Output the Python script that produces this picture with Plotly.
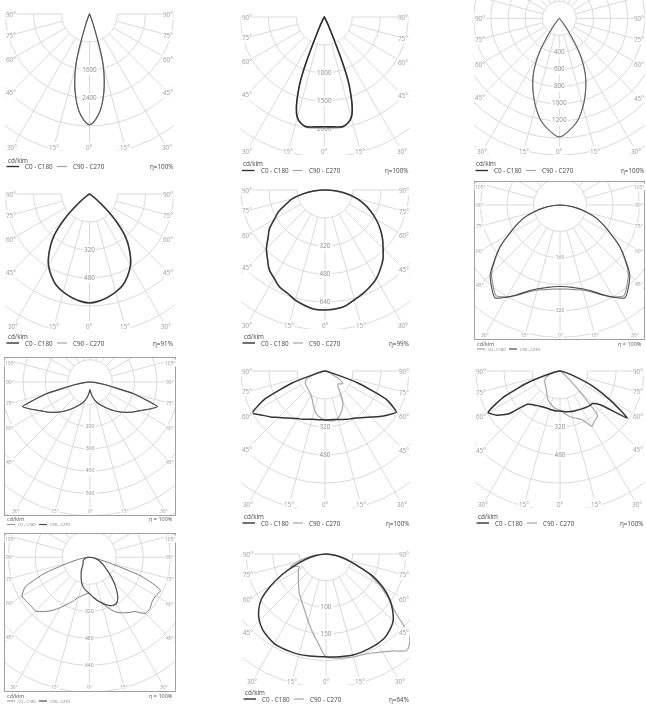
import math
import numpy as np
import plotly.graph_objects as go

W, H = 646, 704
FONT = "Open Sans"

# ---------------- data (cd/klm at gamma angles, 0..90 deg) ----------------
gamma = [0, 5, 10, 15, 20, 25, 30, 35, 40, 45, 50, 55, 60, 65, 70, 75, 80, 85, 90]

# chart 1
c0_1 = [3170, 2900, 2330, 1500, 300, 40, 10, 0, 0, 0, 0, 0, 0, 0, 0, 0, 0, 0, 0]
c180_1 = [3170, 2900, 2330, 1500, 300, 40, 10, 0, 0, 0, 0, 0, 0, 0, 0, 0, 0, 0, 0]
c90_1 = [3150, 2890, 2320, 1490, 290, 40, 10, 0, 0, 0, 0, 0, 0, 0, 0, 0, 0, 0, 0]
c270_1 = [3150, 2890, 2320, 1490, 290, 40, 10, 0, 0, 0, 0, 0, 0, 0, 0, 0, 0, 0, 0]
rings_1 = [1600, 2400]
eta_1 = "η=100%"

# chart 2
c0_2 = [1960, 1970, 1980, 1860, 1300, 230, 30, 10, 5, 0, 0, 0, 0, 0, 0, 0, 0, 0, 0]
c180_2 = [1960, 1970, 1980, 1860, 1300, 230, 30, 10, 5, 0, 0, 0, 0, 0, 0, 0, 0, 0, 0]
c90_2 = [1985, 1990, 1990, 1850, 1290, 225, 30, 10, 5, 0, 0, 0, 0, 0, 0, 0, 0, 0, 0]
c270_2 = [1985, 1990, 1990, 1850, 1290, 225, 30, 10, 5, 0, 0, 0, 0, 0, 0, 0, 0, 0, 0]
rings_2 = [1000, 1500, 2000]
eta_2 = "η=100%"

# chart 3
c0_3 = [1388, 1320, 1220, 1070, 900, 720, 480, 180, 40, 10, 0, 0, 0, 0, 0, 0, 0, 0, 0]
c180_3 = [1388, 1320, 1220, 1070, 900, 720, 480, 180, 40, 10, 0, 0, 0, 0, 0, 0, 0, 0, 0]
c90_3 = [1385, 1318, 1218, 1068, 898, 718, 478, 178, 40, 10, 0, 0, 0, 0, 0, 0, 0, 0, 0]
c270_3 = [1385, 1318, 1218, 1068, 898, 718, 478, 178, 40, 10, 0, 0, 0, 0, 0, 0, 0, 0, 0]
rings_3 = [400, 600, 800, 1000, 1200]
eta_3 = "η=100%"

# chart 4
c0_4 = [623, 615, 600, 580, 555, 515, 468, 400, 320, 200, 80, 20, 5, 0, 0, 0, 0, 0, 0]
c180_4 = [623, 615, 600, 580, 555, 515, 468, 400, 320, 200, 80, 20, 5, 0, 0, 0, 0, 0, 0]
c90_4 = [620, 612, 598, 578, 556, 518, 472, 405, 324, 204, 82, 20, 5, 0, 0, 0, 0, 0, 0]
c270_4 = [620, 612, 598, 578, 556, 518, 472, 405, 324, 204, 82, 20, 5, 0, 0, 0, 0, 0, 0]
rings_4 = [320, 480]
eta_4 = "η=91%"

# chart 5
c0_5 = [686, 683, 672, 650, 630, 610, 585, 552, 515, 470, 428, 385, 337, 290, 240, 190, 130, 65, 0]
c180_5 = [686, 684, 670, 652, 628, 612, 582, 555, 512, 473, 425, 388, 334, 292, 238, 192, 128, 66, 0]
c90_5 = [684, 680, 675, 648, 633, 607, 588, 549, 518, 466, 431, 382, 340, 287, 243, 187, 133, 63, 0]
c270_5 = [684, 686, 668, 655, 626, 615, 580, 558, 510, 476, 422, 390, 331, 295, 236, 195, 126, 68, 0]
rings_5 = [320, 480, 640]
eta_5 = "η=99%"

# chart 6
c0_6 = [254, 255, 260, 266, 280, 300, 320, 335, 315, 292, 255, 220, 178, 145, 118, 82, 50, 20, 0]
c180_6 = [254, 255, 260, 266, 280, 300, 320, 335, 315, 292, 255, 220, 178, 145, 118, 82, 50, 20, 0]
c90_6 = [246, 248, 254, 262, 276, 298, 322, 342, 322, 298, 258, 222, 180, 146, 118, 82, 50, 20, 0]
c270_6 = [246, 248, 254, 262, 276, 298, 322, 342, 322, 298, 258, 222, 180, 146, 118, 82, 50, 20, 0]
rings_6 = [160, 320]
eta_6 = "η = 100%"

# chart 7
c0_7 = [34, 50, 68, 85, 100, 114, 130, 148, 168, 190, 212, 235, 257, 290, 322, 200, 70, 20, 0]
c180_7 = [34, 50, 68, 85, 100, 114, 130, 148, 168, 190, 212, 235, 257, 290, 322, 200, 70, 20, 0]
c90_7 = [34, 50, 68, 85, 100, 114, 130, 148, 168, 190, 212, 235, 257, 290, 322, 200, 70, 20, 0]
c270_7 = [34, 50, 68, 85, 100, 114, 130, 148, 168, 190, 212, 235, 257, 290, 322, 200, 70, 20, 0]
rings_7 = [200, 300, 400, 500]
eta_7 = "η = 100%"

# chart 8
c0_8 = [280, 280, 282, 287, 295, 305, 313, 328, 347, 372, 405, 438, 470, 390, 200, 30, 10, 3, 0]
c180_8 = [280, 280, 282, 286, 294, 304, 314, 330, 350, 375, 408, 440, 480, 380, 200, 30, 10, 3, 0]
c90_8 = [280, 285, 288, 280, 260, 235, 205, 150, 115, 105, 115, 125, 90, 50, 25, 15, 8, 4, 0]
c270_8 = [280, 270, 255, 230, 200, 175, 160, 150, 145, 140, 138, 135, 130, 120, 90, 60, 40, 20, 0]
rings_8 = [320, 480]
eta_8 = "η=100%"

# chart 9
c0_9 = [229, 232, 236, 240, 243, 245, 250, 255, 260, 263, 300, 470, 330, 210, 90, 35, 12, 4, 0]
c180_9 = [229, 229, 228, 226, 225, 227, 232, 240, 250, 270, 380, 440, 474, 360, 200, 60, 15, 5, 0]
c90_9 = [225, 240, 258, 275, 288, 310, 365, 345, 335, 130, 45, 15, 5, 2, 0, 0, 0, 0, 0]
c270_9 = [225, 218, 210, 198, 185, 170, 150, 135, 125, 118, 112, 106, 100, 88, 70, 48, 28, 10, 0]
rings_9 = [320, 480]
eta_9 = "η=100%"

# chart 10
c0_10 = [214, 235, 255, 280, 315, 355, 380, 400, 420, 470, 470, 455, 455, 465, 330, 110, 40, 10, 0]
c180_10 = [214, 218, 230, 245, 275, 305, 345, 385, 420, 450, 450, 455, 460, 420, 290, 130, 60, 20, 0]
c90_10 = [214, 235, 258, 278, 300, 315, 318, 295, 250, 205, 160, 125, 100, 80, 65, 50, 35, 15, 0]
c270_10 = [214, 200, 185, 165, 140, 115, 95, 75, 60, 52, 48, 45, 42, 38, 32, 25, 16, 8, 0]
rings_10 = [320, 480, 640]
eta_10 = "η = 100%"

# chart 11
c0_11 = [193, 194, 195, 196, 196, 195, 194, 192, 186, 178, 163, 145, 122, 95, 60, 40, 24, 9, 0]
c180_11 = [193, 193, 194, 195, 195, 195, 194, 190, 185, 177, 165, 148, 120, 90, 62, 40, 22, 8, 0]
c90_11 = [193, 196, 198, 200, 201, 205, 212, 222, 236, 222, 170, 142, 115, 90, 62, 40, 22, 8, 0]
c270_11 = [193, 168, 148, 130, 115, 104, 95, 88, 80, 73, 68, 63, 60, 55, 70, 55, 35, 15, 0]
rings_11 = [100, 150]
eta_11 = "η=64%"

DATA = [
    dict(c0=c0_1, c180=c180_1, c90=c90_1, c270=c270_1, step=800, rings=rings_1, eta=eta_1),
    dict(c0=c0_2, c180=c180_2, c90=c90_2, c270=c270_2, step=500, rings=rings_2, eta=eta_2),
    dict(c0=c0_3, c180=c180_3, c90=c90_3, c270=c270_3, step=200, rings=rings_3, eta=eta_3),
    dict(c0=c0_4, c180=c180_4, c90=c90_4, c270=c270_4, step=160, rings=rings_4, eta=eta_4),
    dict(c0=c0_5, c180=c180_5, c90=c90_5, c270=c270_5, step=160, rings=rings_5, eta=eta_5),
    dict(c0=c0_6, c180=c180_6, c90=c90_6, c270=c270_6, step=80, rings=rings_6, eta=eta_6),
    dict(c0=c0_7, c180=c180_7, c90=c90_7, c270=c270_7, step=100, rings=rings_7, eta=eta_7),
    dict(c0=c0_8, c180=c180_8, c90=c90_8, c270=c270_8, step=160, rings=rings_8, eta=eta_8),
    dict(c0=c0_9, c180=c180_9, c90=c90_9, c270=c270_9, step=160, rings=rings_9, eta=eta_9),
    dict(c0=c0_10, c180=c180_10, c90=c90_10, c270=c270_10, step=160, rings=rings_10, eta=eta_10),
    dict(c0=c0_11, c180=c180_11, c90=c90_11, c270=c270_11, step=50, rings=rings_11, eta=eta_11),
]

# ---------------- layout geometry (pixels) and styles ----------------
FRAMES = [
    dict(cx=89.5, cy=14, s=0.035, L=5, R=174, T=11, B=151, boxed=False, full=False, ly=(160, 166.5), sm=1.0, dk=("#555555", 1.1)),
    dict(cx=324.3, cy=17, s=0.056, L=240.5, R=409, T=14, B=155, boxed=False, full=False, ly=(164, 170.5), sm=1.0, dk=("#2e2e2e", 1.6)),
    dict(cx=559.3, cy=18.3, s=0.0855, L=474, R=645, T=0, B=155, boxed=False, full=True, ly=(163.5, 170.5), sm=1.0, dk=("#5a5a5a", 1.0)),
    dict(cx=89.5, cy=194, s=0.175, L=5, R=174, T=191, B=330, boxed=False, full=False, ly=(336, 343), sm=1.0, dk=("#333333", 1.5)),
    dict(cx=325, cy=190, s=0.175, L=241, R=410, T=187, B=329, boxed=False, full=False, ly=(336, 343), sm=1.0, dk=("#333333", 1.5)),
    dict(cx=560, cy=205, s=0.331, L=475, R=644, T=182, B=339, boxed=True, full=True, ly=(343.5, 349), sm=0.8, dk=("#4a4a4a", 1.1)),
    dict(cx=90, cy=382, s=0.223, L=5, R=175, T=358, B=515, boxed=True, full=True, ly=(519, 524.5), sm=0.4, dk=("#4a4a4a", 1.1)),
    dict(cx=325, cy=371, s=0.175, L=241, R=410, T=368, B=508, boxed=False, full=False, ly=(516.5, 523), sm=0.5, dk=("#333333", 1.5)),
    dict(cx=560, cy=371, s=0.175, L=475, R=644, T=368, B=508, boxed=False, full=False, ly=(516.5, 523), sm=0.5, dk=("#333333", 1.5)),
    dict(cx=89.3, cy=557.3, s=0.16875, L=5, R=175, T=534, B=691, boxed=True, full=True, ly=(695.5, 701), sm=0.6, dk=("#4a4a4a", 1.2)),
    dict(cx=326, cy=554, s=0.533, L=242, R=410, T=551, B=685, boxed=False, full=False, ly=(692.5, 699), sm=0.8, dk=("#333333", 1.5)),
]

GRID = "#dadada"
ANG_COL = "#9b9b9b"
RING_COL = "#8a8a8a"
DARK = "#333333"
GRAY = "#a6a6a6"
TXT = 6.3  # main small text size


def curve_xy(left, right):
    g = np.radians(np.array(gamma, dtype=float))
    rl = np.array(left, dtype=float)
    rr = np.array(right, dtype=float)
    xl = -rl[::-1] * np.sin(g[::-1])
    yl = -rl[::-1] * np.cos(g[::-1])
    xr = rr[1:] * np.sin(g[1:])
    yr = -rr[1:] * np.cos(g[1:])
    return np.concatenate([xl, xr]), np.concatenate([yl, yr])


def grid_xy(fr, step, ring_vals, fsize):
    s, cx, cy = fr["s"], fr["cx"], fr["cy"]
    corners = [(fr["L"], fr["B"]), (fr["R"], fr["B"]), (fr["L"], fr["T"]), (fr["R"], fr["T"])]
    rmax = max(math.hypot(x - cx, y - cy) for x, y in corners) / s
    nr = int(rmax / step) + 1
    xs, ys = [], []
    for k in range(1, nr + 1):
        r = k * step
        rpx = r * s
        gap = 0.0
        if r in ring_vals:
            hw = (len(str(r)) * fsize * 0.58 + 3) / 2
            gap = math.degrees(math.asin(min(1.0, hw / rpx)))
        if fr["full"]:
            segs = [(gap, 360 - gap)]
        elif gap > 0:
            segs = [(-90, -gap), (gap, 90)]
        else:
            segs = [(-90, 90)]
        for a, b in segs:
            ph = np.radians(np.linspace(a, b, max(3, int((b - a) * 2))))
            xs += list(r * np.sin(ph))
            ys += list(-r * np.cos(ph))
            xs.append(None)
            ys.append(None)
    angs = range(0, 360, 15) if fr["full"] else range(-90, 91, 15)
    rfar = rmax * 1.5
    for a in angs:
        t = math.radians(a)
        if a % 360 == 0 and ring_vals:
            d = (fsize * 0.6 + 1) / s
            pts = [step]
            for rv in sorted(ring_vals):
                pts += [rv - d, rv + d]
            pts.append(rfar)
            for i in range(0, len(pts), 2):
                r1, r2 = pts[i], pts[i + 1]
                xs += [r1 * math.sin(t), r2 * math.sin(t), None]
                ys += [-r1 * math.cos(t), -r2 * math.cos(t), None]
        else:
            xs += [step * math.sin(t), rfar * math.sin(t), None]
            ys += [-step * math.cos(t), -rfar * math.cos(t), None]
    return xs, ys


def px2paper(x, y):
    return x / W, 1 - y / H


fig = go.Figure()
layout = dict(
    width=W, height=H, margin=dict(l=0, r=0, t=0, b=0),
    paper_bgcolor="white", plot_bgcolor="white", showlegend=False,
    annotations=[], shapes=[],
)


def ann(x, y, text, size, color, xanchor="center", bg=None):
    px, py = px2paper(x, y)
    d = dict(x=px, y=py, xref="paper", yref="paper", text=text, showarrow=False,
             font=dict(size=size, color=color, family=FONT),
             xanchor=xanchor, yanchor="middle", borderpad=0)
    if bg:
        d["bgcolor"] = bg
    layout["annotations"].append(d)


def seg(a0, a1, y, col, w):
    p0 = px2paper(a0, y)
    p1 = px2paper(a1, y)
    layout["shapes"].append(dict(type="line", xref="paper", yref="paper",
                                 x0=p0[0], y0=p0[1], x1=p1[0], y1=p1[1],
                                 line=dict(color=col, width=w)))


for i, (d, fr) in enumerate(zip(DATA, FRAMES), start=1):
    xa = "xaxis" if i == 1 else f"xaxis{i}"
    ya = "yaxis" if i == 1 else f"yaxis{i}"
    xr = "x" if i == 1 else f"x{i}"
    yr = "y" if i == 1 else f"y{i}"
    s = fr["s"]
    boxed = fr["boxed"]
    x0, y1 = px2paper(fr["L"], fr["T"])
    x1, y0 = px2paper(fr["R"], fr["B"])
    common = dict(showgrid=False, zeroline=False, showticklabels=False, ticks="",
                  fixedrange=True, showline=boxed, mirror=boxed, linecolor="#a0a0a0",
                  linewidth=1, visible=True)
    layout[xa] = dict(domain=[x0, x1], anchor=yr,
                      range=[(fr["L"] - fr["cx"]) / s, (fr["R"] - fr["cx"]) / s], **common)
    layout[ya] = dict(domain=[y0, y1], anchor=xr,
                      range=[-(fr["B"] - fr["cy"]) / s, (fr["cy"] - fr["T"]) / s], **common)

    rfs = 5 if boxed else TXT
    gx, gy = grid_xy(fr, d["step"], d["rings"], rfs)
    fig.add_trace(go.Scatter(x=gx, y=gy, mode="lines", line=dict(color=GRID, width=1),
                             hoverinfo="skip", xaxis=xr, yaxis=yr))
    # ring value labels
    fig.add_trace(go.Scatter(x=[0] * len(d["rings"]), y=[-r for r in d["rings"]],
                             text=[str(r) for r in d["rings"]], mode="text",
                             textfont=dict(size=rfs, color=RING_COL, family=FONT),
                             hoverinfo="skip", xaxis=xr, yaxis=yr))
    # curves
    ax, ay = curve_xy(d["c180"], d["c0"])
    bx, by = curve_xy(d["c270"], d["c90"])
    sm = fr["sm"]
    dcol, dw = fr["dk"]
    if boxed:
        fig.add_trace(go.Scatter(x=ax, y=ay, mode="lines",
                                 line=dict(color="#7a7a7a", width=1, shape="spline", smoothing=sm),
                                 hoverinfo="skip", xaxis=xr, yaxis=yr))
        fig.add_trace(go.Scatter(x=bx, y=by, mode="lines",
                                 line=dict(color=dcol, width=dw, shape="spline", smoothing=sm),
                                 hoverinfo="skip", xaxis=xr, yaxis=yr))
    else:
        fig.add_trace(go.Scatter(x=bx, y=by, mode="lines",
                                 line=dict(color=GRAY, width=1.2, shape="spline", smoothing=sm),
                                 hoverinfo="skip", xaxis=xr, yaxis=yr))
        fig.add_trace(go.Scatter(x=ax, y=ay, mode="lines",
                                 line=dict(color=dcol, width=dw, shape="spline", smoothing=sm),
                                 hoverinfo="skip", xaxis=xr, yaxis=yr))

    # angle labels
    afs = 5 if boxed else TXT
    inset = 5 if boxed else 6
    side_angles = [105, 90, 75, 60, 45] if boxed else [90, 75, 60, 45]
    for side in (-1, 1):
        xl = fr["L"] + inset if side < 0 else fr["R"] - inset
        dx = abs(xl - fr["cx"])
        for a in side_angles:
            yl = fr["cy"] + dx / math.tan(math.radians(a)) if a != 90 else fr["cy"]
            yl = max(yl, fr["T"] + (5 if boxed else 0))
            ann(xl, yl, f"{a}°", afs, ANG_COL, bg="white")
    yb = fr["B"] - (4 if boxed else 3.5)
    for a in (-30, -15, 0, 15, 30):
        xb = fr["cx"] + (yb - fr["cy"]) * math.tan(math.radians(a))
        xb = min(max(xb, fr["L"] + inset), fr["R"] - inset)
        ann(xb, yb, f"{abs(a)}°", afs, ANG_COL, bg="white")

    # legend block
    ly1, ly2 = fr["ly"]
    L, R = fr["L"], fr["R"]
    if boxed:
        ann(L + 1, ly1, "cd/klm", 5.5, "#555555", xanchor="left")
        ann(R - 1, ly1, d["eta"], 5.5, "#555555", xanchor="right")
        seg(L + 2, L + 10, ly2, "#7a7a7a", 0.8)
        seg(L + 34, L + 42, ly2, "#4a4a4a", 1.2)
        ann(L + 12, ly2, "C0 - C180", 4, "#777777", xanchor="left")
        ann(L + 44, ly2, "C90 - C270", 4, "#777777", xanchor="left")
    else:
        ann(L + 1.5, ly1, "cd/klm", TXT, "#444444", xanchor="left")
        ann(R, ly2, d["eta"], TXT, "#444444", xanchor="right")
        seg(L + 1.5, L + 14, ly2, DARK, 1.4)
        seg(L + 52, L + 62, ly2, GRAY, 1.2)
        ann(L + 19, ly2, "C0 - C180", TXT, "#444444", xanchor="left")
        ann(L + 67, ly2, "C90 - C270", TXT, "#444444", xanchor="left")

fig.update_layout(**layout)
fig.write_html(
    "out.html",
    config={"displayModeBar": False, "staticPlot": True},
    post_script="document.body.style.margin='0px';"
                "var gd=document.querySelector('.plotly-graph-div');"
                "if(gd){gd.style.willChange='transform';}",
)
